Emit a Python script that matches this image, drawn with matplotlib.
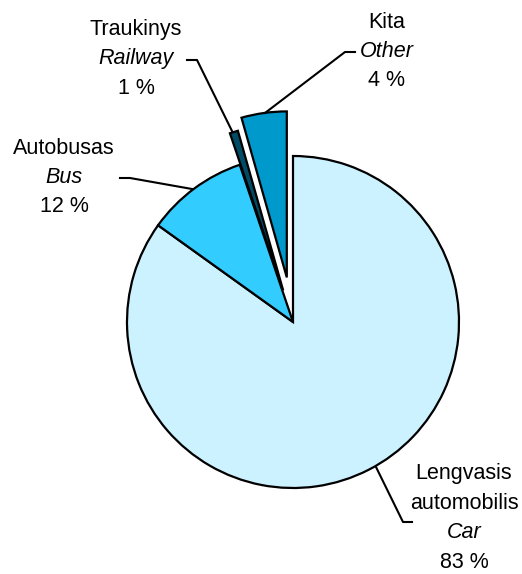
import matplotlib
matplotlib.use("Agg")
import matplotlib.pyplot as plt

# ---------------------------------------------------------------- data
# order clockwise from 12 o'clock
names_lt = ["Lengvasis\nautomobilis", "Autobusas", "Traukinys", "Kita"]
names_en = ["Car", "Bus", "Railway", "Other"]
pct_labels = ["83 %", "12 %", "1 %", "4 %"]
shares = [84.9, 9.9, 0.8, 4.4]          # slice sizes
colors = ["#CCF2FF", "#33CCFF", "#004C66", "#0099CC"]
explode = [0, 0, 33, 45]                 # pixels

# ---------------------------------------------------------------- figure
W, H = 522, 574
fig = plt.figure(figsize=(W / 100, H / 100), dpi=100)
ax = fig.add_axes([0, 0, 1, 1])

cx, cy, r = 293, H - 322, 166
# pie() takes explode in data units, which here are pixels
ax.pie(shares, colors=colors, startangle=90, counterclock=False,
       center=(cx, cy), radius=r, explode=explode, frame=True,
       wedgeprops=dict(edgecolor="black", linewidth=1.6))
ax.set_xlim(0, W)
ax.set_ylim(0, H)
ax.set_aspect("equal")
ax.axis("off")

font = dict(family="Liberation Sans", fontsize=15.5, ha="center", va="center")


def block(x, y_top, lines):
    # lines: list of (text, italic)
    y = y_top
    for text, italic in lines:
        for t in text.split("\n"):
            ax.text(x, H - y, t, style="italic" if italic else "normal", **font)
            y += 29.5


block(136, 29, [(names_lt[2], False), (names_en[2], True), (pct_labels[2], False)])
block(64, 148, [(names_lt[1], False), (names_en[1], True), (pct_labels[1], False)])
block(387, 22, [(names_lt[3], False), (names_en[3], True), (pct_labels[3], False)])
block(464, 474, [(names_lt[0], False), (names_en[0], True), (pct_labels[0], False)])

# leader lines
lk = dict(color="black", linewidth=1.5)
ax.plot([187, 197, 232], [H - 60, H - 60, H - 131], **lk)
ax.plot([120, 130, 192], [H - 178, H - 178, H - 189], **lk)
ax.plot([355, 345, 265], [H - 52, H - 52, H - 113], **lk)
ax.plot([412, 403, 376], [H - 522, H - 522, H - 467], **lk)

fig.savefig("out.png", dpi=100, facecolor="white")
